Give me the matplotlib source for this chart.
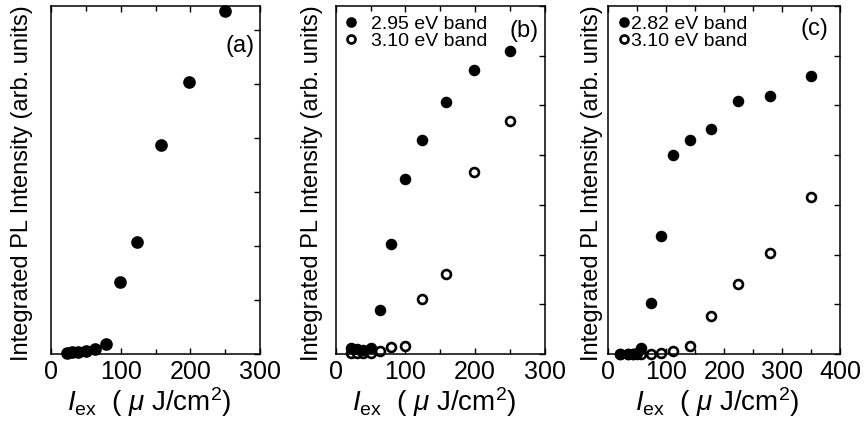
import matplotlib
matplotlib.use('Agg')
import matplotlib.pyplot as plt
from matplotlib.ticker import MultipleLocator, NullFormatter

# Arial-like look for everything, incl. the math bits of the x label
plt.rcParams['font.family'] = 'Liberation Sans'
plt.rcParams['mathtext.fontset'] = 'custom'
plt.rcParams['mathtext.rm'] = 'Liberation Sans'
plt.rcParams['mathtext.it'] = 'Liberation Sans:italic'

# (a) single band
x_a = [22.5, 30, 39, 50, 63, 79, 99, 124, 157.5, 198, 250]
y_a = [0.02, 0.03, 0.04, 0.06, 0.09, 0.19, 1.34, 2.08, 3.87, 5.04, 6.34]

# (b) two bands
x_b = [22.5, 30, 39, 50, 63, 79, 99, 124, 157.5, 198, 250]
y_b_295 = [0.12, 0.10, 0.08, 0.13, 0.89, 2.22, 3.51, 4.30, 5.06, 5.71, 6.10]
y_b_310 = [0.03, 0.03, 0.02, 0.03, 0.06, 0.15, 0.17, 1.11, 1.60, 3.67, 4.69]

# (c) two bands
x_c = [20, 34, 42, 49, 57, 73, 91, 112, 141, 177, 223, 279, 350]
y_c_282 = [0.0, 0.01, 0.01, 0.02, 0.12, 1.02, 2.38, 4.00, 4.30, 4.53, 5.09, 5.18, 5.59]
y_c_310 = [0.0, 0.0, 0.0, 0.0, 0.0, 0.01, 0.03, 0.055, 0.16, 0.76, 1.41, 2.04, 3.15]

ylabel = 'Integrated PL Intensity (arb. units)'
xlabel = r'$I_{\rm ex}$  ( $\mu$ J/cm$^{2}$)'

fig = plt.figure(figsize=(8.64, 4.25), dpi=100)

# axes boxes in figure fractions
ax_a = fig.add_axes([0.059, 0.167, 0.242, 0.819])
ax_b = fig.add_axes([0.3885, 0.167, 0.2422, 0.819])
ax_c = fig.add_axes([0.704, 0.167, 0.2685, 0.819])


def style(ax, xmax, ymax, ylab_x):
    ax.set_xlim(0, xmax)
    ax.set_ylim(0, ymax)
    ax.xaxis.set_major_locator(MultipleLocator(100))
    ax.xaxis.set_minor_locator(MultipleLocator(50))
    ax.yaxis.set_major_locator(MultipleLocator(1))
    ax.yaxis.set_major_formatter(NullFormatter())
    ax.tick_params(axis='x', which='both', direction='in', top=True, bottom=True,
                   labelsize=18, pad=4, width=1)
    ax.tick_params(axis='x', which='major', length=4)
    ax.tick_params(axis='x', which='minor', length=3.5)
    ax.tick_params(axis='y', which='both', direction='in', left=False, right=True,
                   length=4, width=1)
    for sp in ax.spines.values():
        sp.set_linewidth(1.1)
    ax.set_ylabel(ylabel, fontsize=17, va='center')
    ax.yaxis.set_label_coords(ylab_x, 0.49)
    ax.set_xlabel(xlabel, fontsize=20, va='top')
    ax.xaxis.set_label_coords(0.47, -0.09)


style(ax_a, 300, 6.44, -0.139)
style(ax_b, 300, 7, -0.113)
style(ax_c, 400, 7, -0.07)

ax_a.plot(x_a, y_a, 'o', color='black', ms=7.6, mew=1.5, clip_on=False)
ax_a.text(0.976, 0.917, '(a)', transform=ax_a.transAxes, ha='right', va='top', fontsize=17)

ax_b.plot(x_b, y_b_310, 'o', mfc='white', mec='black', ms=6.4, mew=1.9,
          clip_on=False, label='3.10 eV band')
ax_b.plot(x_b, y_b_295, 'o', color='black', ms=6.6, mew=1.7,
          clip_on=False, label='2.95 eV band')
ax_b.text(0.968, 0.96, '(b)', transform=ax_b.transAxes, ha='right', va='top', fontsize=17)
h, l = ax_b.get_legend_handles_labels()
ax_b.legend(h[::-1], l[::-1], loc='upper left', frameon=False, fontsize=14,
            handlelength=0.6, handletextpad=0.7, labelspacing=-0.05,
            borderaxespad=0.2, borderpad=0.3, markerscale=0.9)

ax_c.plot(x_c, y_c_310, 'o', mfc='white', mec='black', ms=6.4, mew=1.9,
          clip_on=False, label='3.10 eV band')
ax_c.plot(x_c, y_c_282, 'o', color='black', ms=6.6, mew=1.7,
          clip_on=False, label='2.82 eV band')
ax_c.text(0.948, 0.966, '(c)', transform=ax_c.transAxes, ha='right', va='top', fontsize=17)
h, l = ax_c.get_legend_handles_labels()
ax_c.legend(h[::-1], l[::-1], loc='upper left', frameon=False, fontsize=14,
            handlelength=0.6, handletextpad=0.05, labelspacing=-0.05,
            borderaxespad=0.2, borderpad=0.3, markerscale=0.9)

fig.savefig('out.png', dpi=100)
